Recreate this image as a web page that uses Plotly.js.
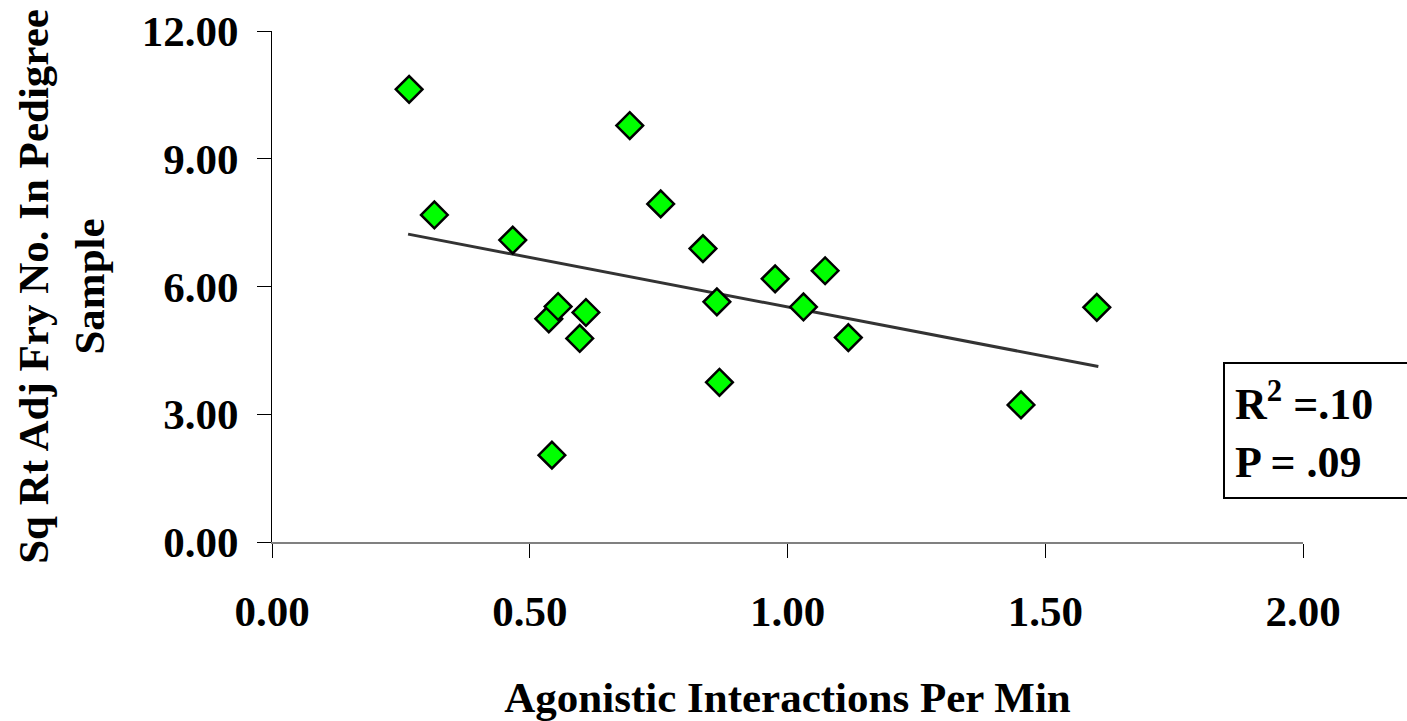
<!DOCTYPE html>
<html>
<head>
<meta charset="utf-8">
<script src="https://cdn.plot.ly/plotly-3.0.1.min.js"></script>
<style>
  html, body { margin: 0; padding: 0; background: #ffffff; }
  #chart { width: 1407px; height: 721px; }
</style>
</head>
<body>
<div id="chart"></div>
<script>
// Agonistic interactions per minute (x) vs square-root adjusted fry number (y)
const agonisticPerMin = [0.266, 0.315, 0.467, 0.537, 0.543, 0.555, 0.597, 0.609, 0.694, 0.754, 0.836, 0.863, 0.868, 0.976, 1.031, 1.073, 1.118, 1.453, 1.600];
const sqRtAdjFry     = [10.63, 7.68, 7.09, 5.24, 2.04, 5.53, 4.78, 5.39, 9.78, 7.94, 6.89, 5.64, 3.75, 6.18, 5.52, 6.37, 4.80, 3.22, 5.51];

// Linear trend line end points
const trendX = [0.264, 1.603];
const trendY = [7.23, 4.12];

// Axis ticks
const xTicks = [0, 0.5, 1.0, 1.5, 2.0];
const yTicks = [0, 3, 6, 9, 12];

// Statistics label
const statsText = "R<sup>2</sup> =.10<br>P = .09";

const FONT = "Liberation Serif, 'Times New Roman', Times, serif";

const traces = [
  {
    x: trendX, y: trendY, type: "scatter", mode: "lines",
    line: { color: "#333333", width: 3 },
    hoverinfo: "skip", showlegend: false
  },
  {
    x: agonisticPerMin, y: sqRtAdjFry, type: "scatter", mode: "markers",
    marker: { symbol: "diamond", size: 20.5, color: "#00ff00", line: { color: "#000000", width: 2.5 } },
    showlegend: false
  }
];

const layout = {
  width: 1407, height: 721,
  paper_bgcolor: "#ffffff", plot_bgcolor: "#ffffff",
  margin: { l: 272, r: 104, t: 31, b: 179, pad: 0 },
  font: { family: FONT, color: "#000000", size: 43, weight: 700 },
  showlegend: false,
  xaxis: {
    range: [0, 2], tickvals: xTicks, tickformat: ".2f",
    showgrid: false, zeroline: false,
    showline: true, linecolor: "#808080", linewidth: 2,
    ticks: "outside", ticklen: 14, tickwidth: 1, tickcolor: "#000000",
    ticklabelstandoff: 16,
    tickfont: { family: FONT, size: 43, color: "#000000", weight: 700 },
    title: { text: "Agonistic Interactions Per Min", font: { family: FONT, size: 43, color: "#000000", weight: 700 }, standoff: 58 }
  },
  xaxis2: {
    overlaying: "x", anchor: "y", side: "bottom", range: [0, 2], tickvals: xTicks,
    showgrid: false, zeroline: false, showline: false, showticklabels: false,
    ticks: "inside", ticklen: 14, tickwidth: 1, tickcolor: "#000000"
  },
  yaxis: {
    range: [0, 12], tickvals: yTicks, tickformat: ".2f",
    showgrid: false, zeroline: false,
    showline: true, linecolor: "#000000", linewidth: 1,
    ticks: "outside", ticklen: 14, tickwidth: 1, tickcolor: "#000000",
    ticklabelstandoff: 10,
    tickfont: { family: FONT, size: 43, color: "#000000", weight: 700 },
    title: { text: "Sq Rt Adj Fry No. In Pedigree<br>Sample", font: { family: FONT, size: 43, color: "#000000", weight: 700 }, standoff: 23 }
  },
  yaxis2: {
    overlaying: "y", anchor: "x", side: "left", range: [0, 12], tickvals: yTicks,
    showgrid: false, zeroline: false, showline: false, showticklabels: false,
    ticks: "inside", ticklen: 14, tickwidth: 1, tickcolor: "#000000"
  },
  shapes: [
    { type: "line", xref: "x", yref: "y", x0: 0, x1: 0, ysizemode: "pixel", yanchor: 0, y0: 0, y1: -14,
      line: { color: "#000000", width: 1 } }
  ],
  annotations: [
    {
      xref: "paper", yref: "paper", x: 0.9225, y: 0.219, xanchor: "left", yanchor: "middle",
      text: statsText, showarrow: false, align: "left",
      font: { family: FONT, size: 44, color: "#000000", weight: 700 },
      bordercolor: "#000000", borderwidth: 2, borderpad: 10, bgcolor: "#ffffff",
      width: 200
    }
  ]
};

Plotly.newPlot("chart", traces, layout, { displayModeBar: false, staticPlot: true });
</script>
</body>
</html>
